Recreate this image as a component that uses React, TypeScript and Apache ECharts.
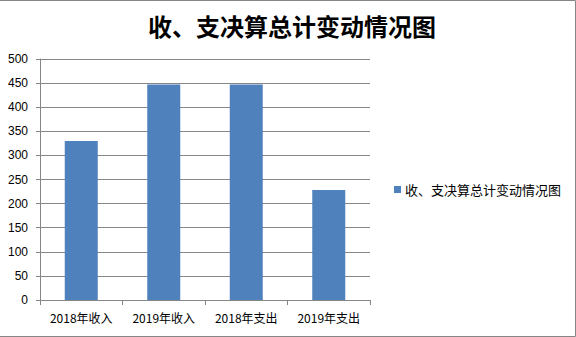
import React, { useEffect, useRef } from "react";
import * as echarts from "echarts";

const titleText = "收、支决算总计变动情况图";
const categories = ["2018年收入", "2019年收入", "2018年支出", "2019年支出"];
const values = [330, 447, 447, 228];
const yMin = 0;
const yMax = 500;
const yInterval = 50;

export default function App() {
  const ref = useRef<HTMLDivElement>(null);
  useEffect(() => {
    if (!ref.current) return;
    const chart = echarts.init(ref.current, undefined, { renderer: "svg" });
    const gray = "#868686";
    chart.setOption({
      animation: false,
      backgroundColor: "#ffffff",
      title: {
        text: titleText,
        left: 287,
        textAlign: "center",
        top: 8,
        textStyle: {
          fontFamily: "Noto Sans CJK SC",
          fontSize: 24,
          fontWeight: "bold",
          color: "#000000",
        },
      },
      legend: {
        show: true,
        left: 389,
        top: 178,
        itemWidth: 7,
        itemHeight: 7,
        itemGap: 6,
        icon: "rect",
        textStyle: {
          fontFamily: "Noto Sans CJK SC",
          fontSize: 13,
          color: "#000000",
          padding: [0, 0, 0, -1],
        },
        data: [titleText],
      },
      grid: { left: 40, right: 206, top: 59, bottom: 37, containLabel: false },
      xAxis: {
        type: "category",
        data: categories,
        boundaryGap: true,
        axisLine: { show: true, lineStyle: { color: gray, width: 1 } },
        axisTick: { show: true, length: 5, lineStyle: { color: gray } },
        axisLabel: {
          fontFamily: "Noto Sans CJK SC",
          fontSize: 12,
          color: "#000000",
          margin: 11,
          interval: 0,
        },
      },
      yAxis: {
        type: "value",
        min: yMin,
        max: yMax,
        interval: yInterval,
        axisLine: { show: true, lineStyle: { color: gray, width: 1 } },
        axisTick: { show: true, length: 4, inside: false, lineStyle: { color: gray } },
        splitLine: { show: true, lineStyle: { color: gray, width: 1 } },
        axisLabel: {
          fontFamily: "Liberation Sans",
          fontSize: 12,
          color: "#000000",
          margin: 12,
        },
      },
      series: [
        {
          name: titleText,
          type: "bar",
          data: values,
          barWidth: 33,
          itemStyle: { color: "#4F81BD" },
        },
      ],
      graphic: [
        {
          type: "polyline",
          shape: {
            points: [
              [0, 0.5],
              [575.5, 0.5],
              [575.5, 336.5],
              [0, 336.5],
            ],
          },
          style: { stroke: gray, lineWidth: 1, fill: "none" },
          silent: true,
        },
      ],
    });
    return () => chart.dispose();
  }, []);
  return (
    <div
      ref={ref}
      style={{ position: "fixed", left: 0, top: 0, width: 576, height: 337 }}
    />
  );
}
